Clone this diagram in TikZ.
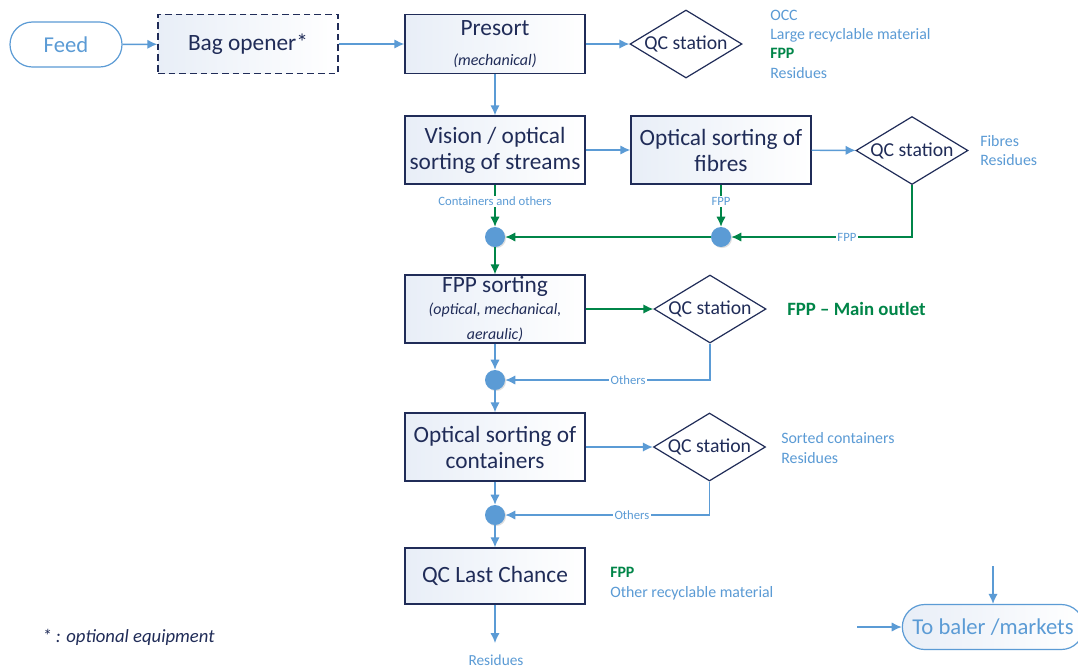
\documentclass[tikz,border=0pt]{standalone}
\usepackage{fontspec}
\setmainfont{Carlito}
\usetikzlibrary{arrows.meta,shapes.geometric,shadows}
\definecolor{lblue}{RGB}{91,155,213}
\definecolor{navy}{RGB}{32,44,88}
\definecolor{fgreen}{RGB}{0,133,72}
\definecolor{boxgrad}{RGB}{232,238,247}
\tikzset{
  arr/.style={draw=lblue, line width=1.1pt, -{Latex[length=7.5pt,width=7pt]}},
  garr/.style={draw=fgreen, line width=1.1pt, -{Latex[length=7.5pt,width=7pt]}},
  procbox/.style={draw=navy, line width=1pt, rectangle, minimum width=135pt, minimum height=51pt,
    left color=boxgrad, right color=white, text=navy, align=center, inner sep=1pt,
    font=\fontsize{17.5}{19.5}\selectfont},
  qc/.style={draw=navy, line width=0.9pt, diamond, aspect=1.65, inner sep=0pt,
    minimum width=84pt, minimum height=51pt, fill=white, text=navy,
    font=\fontsize{14.8}{16}\selectfont},
  term/.style={draw=lblue, line width=0.9pt, rectangle, rounded corners=16.8pt,
    minimum height=33.75pt, text=lblue, font=\fontsize{17}{19}\selectfont,
    left color=white, right color=white},
  junc/.style={circle, fill=lblue, minimum size=15pt, inner sep=0pt,
    drop shadow={opacity=0.25, shadow xshift=0.8pt, shadow yshift=-0.8pt}},
  outtxt/.style={anchor=west, align=left, text=lblue, inner sep=0pt,
    font=\fontsize{11.9}{14.5}\selectfont},
  small/.style={text=lblue, fill=white, inner sep=1pt, font=\fontsize{9.5}{11}\selectfont},
}
\begin{document}
\begin{tikzpicture}[x=0.75pt,y=-0.75pt]
\clip (0,0) rectangle (1078,669);
\fill[white] (0,0) rectangle (1078,669);

% terminals
\node[term, minimum width=84pt] (feed) at (66,44.5) {Feed};
\node[term, minimum width=136pt, left color=boxgrad, right color=white] (baler) at (993,627) {To baler /markets};

% process boxes
\node[procbox, dash pattern=on 5pt off 3pt, minimum height=44.25pt] (bag) at (248,44) {Bag opener*};
\node[procbox, minimum height=44.25pt] (presort) at (495,44) {Presort\\[2.5pt]{\fontsize{12}{12}\selectfont\itshape (mechanical)}};
\node[procbox] (vision) at (495,150) {Vision / optical\\sorting of streams};
\node[procbox] (fibres) at (721,150) {Optical sorting of\\fibres};
\node[procbox] (fpp) at (495,309) {FPP sorting\\[-3pt]{\fontsize{11.9}{19}\selectfont\itshape (optical, mechanical,}\\[-1pt]{\fontsize{11.9}{12}\selectfont\itshape aeraulic)}};
\node[procbox] (cont) at (495,447) {Optical sorting of\\containers};
\node[procbox, minimum height=42pt] (last) at (495,576) {QC Last Chance};

% QC stations
\node[qc] (qc1) at (686,44) {QC station};
\node[qc] (qc2) at (912,150.5) {QC station};
\node[qc] (qc3) at (710,309) {QC station};
\node[qc] (qc4) at (709.5,447) {QC station};

% junctions
\node[junc] (j1) at (495,237) {};
\node[junc] (j2) at (721,237) {};
\node[junc] (j3) at (495,380) {};
\node[junc] (j4) at (495,515) {};

% outputs text
\node[outtxt] (o1) at (770,44) {OCC\\Large recyclable material\\{\color{fgreen}\bfseries FPP}\\Residues};
\node[outtxt] (o2) at (980,150.5) {Fibres\\Residues};
\node[anchor=west, text=fgreen, inner sep=0pt, font=\fontsize{14.1}{16}\selectfont\bfseries] (o3) at (787,309) {FPP -- Main outlet};
\node[outtxt] (o4) at (781,448) {Sorted containers\\Residues};
\node[outtxt] (o5) at (610,583.5) {{\color{fgreen}\bfseries FPP}\\Other recyclable material};
\node[text=lblue, inner sep=0pt, font=\fontsize{11.5}{13}\selectfont] (res) at (496,660) {Residues};
\node[anchor=west, text=navy, inner sep=0pt, font=\fontsize{14}{16}\selectfont\itshape] (note) at (42,637) {* : optional equipment};

% connectors
\draw[arr] (feed) -- (bag);
\draw[arr] (bag) -- (presort);
\draw[arr] (presort) -- (qc1);
\draw[arr] (presort) -- (vision);
\draw[arr] (vision) -- (fibres);
\draw[arr] (fibres) -- (qc2);
\draw[garr] (vision) -- node[small, pos=0.4] {Containers and others} (j1);
\draw[garr] (fibres) -- node[small, pos=0.4] {FPP} (j2);
\draw[garr] (qc2.south) |- node[small, pos=0.68] {FPP} (j2);
\draw[garr] (j2) -- (j1);
\draw[garr] (j1) -- (fpp);
\draw[garr] (fpp) -- (qc3);
\draw[arr] (fpp) -- (j3);
\draw[arr] (qc3.south) |- node[small, pos=0.7] {Others} (j3);
\draw[arr] (j3) -- (cont);
\draw[arr] (cont) -- (qc4);
\draw[arr] (cont) -- (j4);
\draw[arr] (qc4.south) |- node[small, pos=0.69] {Others} (j4);
\draw[arr] (j4) -- (last);
\coordinate (rend) at (495,643);
\draw[arr] (last) -- (rend);
\coordinate (bin1) at (857,627);
\coordinate (bin2) at (993,566);
\draw[arr] (bin1) -- (baler);
\draw[arr] (bin2) -- (baler);
\end{tikzpicture}
\end{document}
